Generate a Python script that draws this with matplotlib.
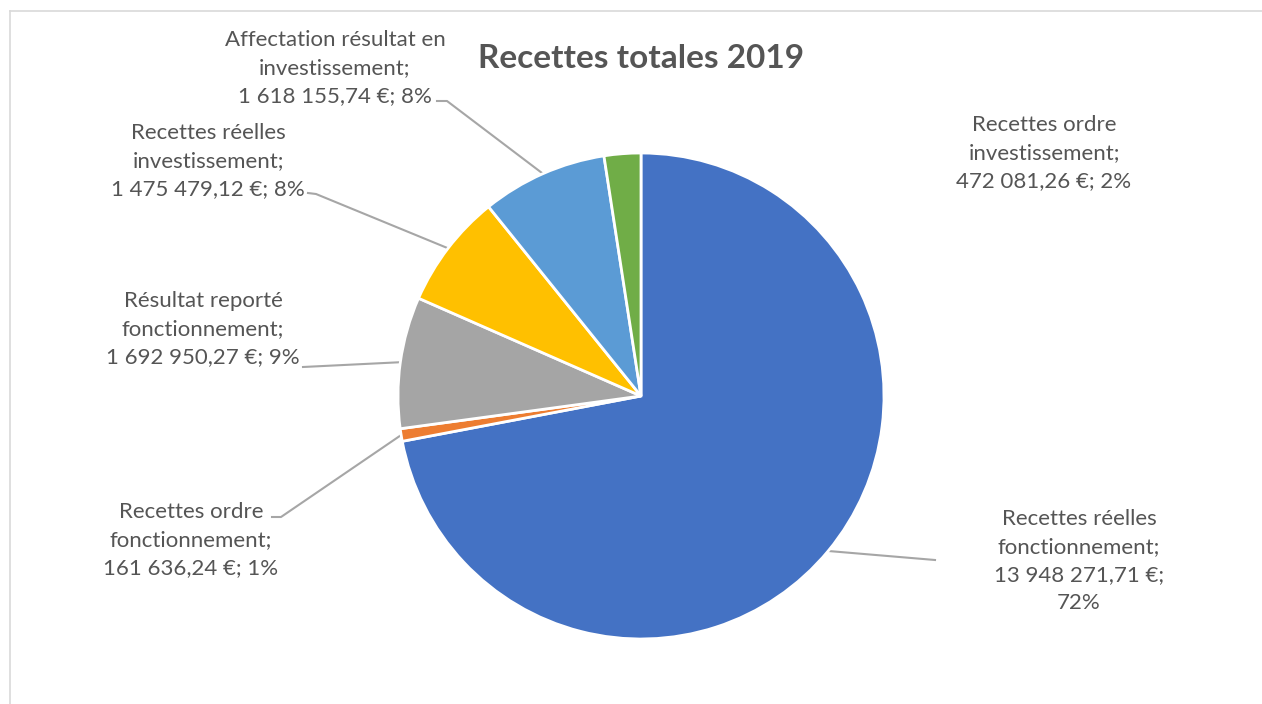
import numpy as np
import matplotlib.pyplot as plt

# data
categories = ["Recettes réelles\nfonctionnement", "Recettes ordre\nfonctionnement",
              "Résultat reporté\nfonctionnement", "Recettes réelles\ninvestissement",
              "Affectation résultat en\ninvestissement", "Recettes ordre\ninvestissement"]
values = [13948271.71, 161636.24, 1692950.27, 1475479.12, 1618155.74, 472081.26]
colors = ['#4472C4', '#ED7D31', '#A5A5A5', '#FFC000', '#5B9BD5', '#70AD47']
title = "Recettes totales 2019"

W, H = 1262, 704
cx, cy, R = 641, 396, 243
txt_col = '#555555'
line_col = '#A6A6A6'
font = ['Lato', 'DejaVu Sans']
fs = 16

# label centres (pixels), separator before percent, leader anchor (None = no leader)
label_pos = [(1079, 561), (191, 540), (203, 329), (208, 161), (335, 68), (1044, 153)]
pct_sep = ["\n", " ", " ", " ", " ", " "]
anchors = [[(935, 560)], [(272, 517), (281, 517)], [(303, 367)],
           [(308, 193), (316, 194)], [(437, 101), (447, 101)], None]


def fmt(v):
    return f"{v:,.2f}".replace(",", " ").replace(".", ",")


def py(y):
    return H - y


fig = plt.figure(figsize=(W / 100, H / 100), dpi=100)
ax = fig.add_axes([0, 0, 1, 1])

wedges, _ = ax.pie(values, colors=colors, startangle=90, counterclock=False,
                   center=(cx, py(cy)), radius=R,
                   wedgeprops=dict(edgecolor='white', linewidth=2))
ax.set_xlim(0, W)
ax.set_ylim(0, H)
ax.set_aspect('equal')
ax.axis('off')

total = sum(values)
for i, (name, v) in enumerate(zip(categories, values)):
    pct = round(v / total * 100)
    label = f"{name};\n{fmt(v)} €;{pct_sep[i]}{pct}%"
    x, y = label_pos[i]
    ax.text(x, py(y), label, ha='center', va='center', fontsize=fs,
            color=txt_col, family=font, linespacing=1.5)
    if anchors[i] is not None:
        w = wedges[i]
        mid = np.deg2rad((w.theta1 + w.theta2) / 2)
        ex = cx + R * np.cos(mid)
        ey = py(cy) + R * np.sin(mid)
        xs = [p[0] for p in anchors[i]] + [ex]
        ys = [py(p[1]) for p in anchors[i]] + [ey]
        ax.plot(xs, ys, color=line_col, lw=1.5, zorder=0.5)

ax.text(cx, py(58), title, ha='center', va='center', fontsize=24,
        fontweight='bold', color=txt_col, family=font)

# light frame of the chart area
ax.plot([10, W], [py(11), py(11)], color='#D9D9D9', lw=1.2)
ax.plot([10, 10], [py(11), 0], color='#D9D9D9', lw=1.2)

fig.savefig('out.png', dpi=100)
